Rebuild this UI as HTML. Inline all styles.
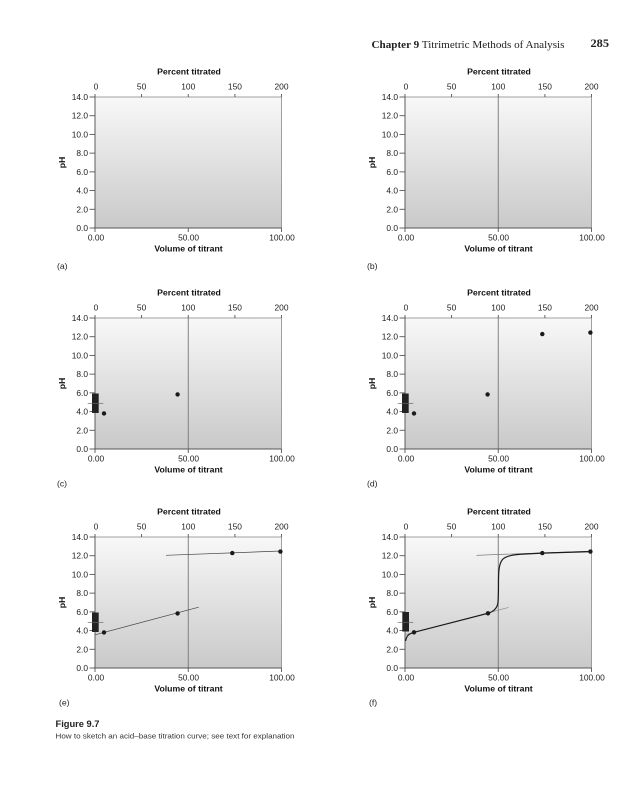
<!DOCTYPE html>
<html>
<head>
<meta charset="utf-8">
<style>
html,body{margin:0;padding:0;background:#fff;}
svg{display:block;}
.t{font-family:"Liberation Sans",sans-serif;font-size:8.4px;fill:#222;}
.b{font-family:"Liberation Sans",sans-serif;font-size:8.7px;font-weight:bold;fill:#111;}
.p{font-family:"Liberation Sans",sans-serif;font-size:8.6px;fill:#222;}
</style>
</head>
<body>
<svg width="640" height="800" viewBox="0 0 640 800" xmlns="http://www.w3.org/2000/svg">
<defs>
<linearGradient id="g" x1="0" y1="0" x2="0" y2="1">
<stop offset="0" stop-color="#f8f8f8"/>
<stop offset="1" stop-color="#c9c9c9"/>
</linearGradient>
</defs>
<rect width="640" height="800" fill="#fff"/>

<!-- Header -->
<text x="371.5" y="48" font-family="Liberation Serif, serif" font-size="10.6" fill="#222" textLength="193" lengthAdjust="spacingAndGlyphs"><tspan font-weight="bold">Chapter  9</tspan>  Titrimetric Methods of Analysis</text>
<text x="590.5" y="47" font-family="Liberation Serif, serif" font-size="11.5" font-weight="bold" fill="#222" textLength="18.5" lengthAdjust="spacingAndGlyphs">285</text>

<!-- ========== Panel a ========== -->
<g transform="translate(95,97)">
<rect x="0" y="0" width="186.5" height="131" fill="url(#g)" stroke="#8a8a8a" stroke-width="0.8"/>
<g stroke="#555" stroke-width="0.9" fill="none">
<line x1="0" y1="0" x2="0" y2="131"/><line x1="0" y1="131" x2="186.5" y2="131"/>
<line x1="-5.5" y1="0" x2="0" y2="0"/><line x1="-5.5" y1="18.71" x2="0" y2="18.71"/><line x1="-5.5" y1="37.43" x2="0" y2="37.43"/><line x1="-5.5" y1="56.14" x2="0" y2="56.14"/><line x1="-5.5" y1="74.86" x2="0" y2="74.86"/><line x1="-5.5" y1="93.57" x2="0" y2="93.57"/><line x1="-5.5" y1="112.29" x2="0" y2="112.29"/><line x1="-5.5" y1="131" x2="0" y2="131"/>
<line x1="0" y1="-3" x2="0" y2="0"/><line x1="46.6" y1="-3" x2="46.6" y2="0"/><line x1="93.25" y1="-3" x2="93.25" y2="0"/><line x1="139.9" y1="-3" x2="139.9" y2="0"/><line x1="186.5" y1="-3" x2="186.5" y2="0"/>
<line x1="0" y1="131" x2="0" y2="135"/><line x1="93.25" y1="131" x2="93.25" y2="135"/><line x1="186.5" y1="131" x2="186.5" y2="135"/>
</g>
<g class="t" text-anchor="end">
<text x="-7" y="3">14.0</text><text x="-7" y="21.7">12.0</text><text x="-7" y="40.4">10.0</text><text x="-7" y="59.1">8.0</text><text x="-7" y="77.9">6.0</text><text x="-7" y="96.6">4.0</text><text x="-7" y="115.3">2.0</text><text x="-7" y="134">0.0</text>
</g>
<g class="t" text-anchor="middle">
<text x="1" y="-7.3">0</text><text x="46.6" y="-7.3">50</text><text x="93.25" y="-7.3">100</text><text x="139.9" y="-7.3">150</text><text x="186.5" y="-7.3">200</text>
<text x="1" y="143.5">0.00</text><text x="93.6" y="143.5">50.00</text><text x="187" y="143.5">100.00</text>
</g>
<text class="b" x="94" y="-22.6" text-anchor="middle">Percent titrated</text>
<text class="b" x="93.5" y="154.5" text-anchor="middle">Volume of titrant</text>
<text class="b" transform="translate(-30,65.5) rotate(-90)" text-anchor="middle">pH</text>
<text class="p" x="-38" y="172">(a)</text>
</g>

<!-- ========== Panel b ========== -->
<g transform="translate(405,97)">
<rect x="0" y="0" width="186.5" height="131" fill="url(#g)" stroke="#8a8a8a" stroke-width="0.8"/>
<line x1="93.25" y1="0" x2="93.25" y2="131" stroke="#777" stroke-width="0.9"/>
<g stroke="#555" stroke-width="0.9" fill="none">
<line x1="0" y1="0" x2="0" y2="131"/><line x1="0" y1="131" x2="186.5" y2="131"/>
<line x1="-5.5" y1="0" x2="0" y2="0"/><line x1="-5.5" y1="18.71" x2="0" y2="18.71"/><line x1="-5.5" y1="37.43" x2="0" y2="37.43"/><line x1="-5.5" y1="56.14" x2="0" y2="56.14"/><line x1="-5.5" y1="74.86" x2="0" y2="74.86"/><line x1="-5.5" y1="93.57" x2="0" y2="93.57"/><line x1="-5.5" y1="112.29" x2="0" y2="112.29"/><line x1="-5.5" y1="131" x2="0" y2="131"/>
<line x1="0" y1="-3" x2="0" y2="0"/><line x1="46.6" y1="-3" x2="46.6" y2="0"/><line x1="93.25" y1="-3" x2="93.25" y2="0"/><line x1="139.9" y1="-3" x2="139.9" y2="0"/><line x1="186.5" y1="-3" x2="186.5" y2="0"/>
<line x1="0" y1="131" x2="0" y2="135"/><line x1="93.25" y1="131" x2="93.25" y2="135"/><line x1="186.5" y1="131" x2="186.5" y2="135"/>
</g>
<g class="t" text-anchor="end">
<text x="-7" y="3">14.0</text><text x="-7" y="21.7">12.0</text><text x="-7" y="40.4">10.0</text><text x="-7" y="59.1">8.0</text><text x="-7" y="77.9">6.0</text><text x="-7" y="96.6">4.0</text><text x="-7" y="115.3">2.0</text><text x="-7" y="134">0.0</text>
</g>
<g class="t" text-anchor="middle">
<text x="1" y="-7.3">0</text><text x="46.6" y="-7.3">50</text><text x="93.25" y="-7.3">100</text><text x="139.9" y="-7.3">150</text><text x="186.5" y="-7.3">200</text>
<text x="1" y="143.5">0.00</text><text x="93.6" y="143.5">50.00</text><text x="187" y="143.5">100.00</text>
</g>
<text class="b" x="94" y="-22.6" text-anchor="middle">Percent titrated</text>
<text class="b" x="93.5" y="154.5" text-anchor="middle">Volume of titrant</text>
<text class="b" transform="translate(-30,65.5) rotate(-90)" text-anchor="middle">pH</text>
<text class="p" x="-38" y="172">(b)</text>
</g>

<!-- ========== Panel c ========== -->
<g transform="translate(95,318)">
<rect x="0" y="0" width="186.5" height="131" fill="url(#g)" stroke="#8a8a8a" stroke-width="0.8"/>
<line x1="93.25" y1="0" x2="93.25" y2="131" stroke="#777" stroke-width="0.9"/>
<g stroke="#555" stroke-width="0.9" fill="none">
<line x1="0" y1="0" x2="0" y2="131"/><line x1="0" y1="131" x2="186.5" y2="131"/>
<line x1="-5.5" y1="0" x2="0" y2="0"/><line x1="-5.5" y1="18.71" x2="0" y2="18.71"/><line x1="-5.5" y1="37.43" x2="0" y2="37.43"/><line x1="-5.5" y1="56.14" x2="0" y2="56.14"/><line x1="-5.5" y1="74.86" x2="0" y2="74.86"/><line x1="-5.5" y1="93.57" x2="0" y2="93.57"/><line x1="-5.5" y1="112.29" x2="0" y2="112.29"/><line x1="-5.5" y1="131" x2="0" y2="131"/>
<line x1="0" y1="-3" x2="0" y2="0"/><line x1="46.6" y1="-3" x2="46.6" y2="0"/><line x1="93.25" y1="-3" x2="93.25" y2="0"/><line x1="139.9" y1="-3" x2="139.9" y2="0"/><line x1="186.5" y1="-3" x2="186.5" y2="0"/>
<line x1="0" y1="131" x2="0" y2="135"/><line x1="93.25" y1="131" x2="93.25" y2="135"/><line x1="186.5" y1="131" x2="186.5" y2="135"/>
</g>
<rect x="-3" y="75.5" width="6.7" height="19.5" fill="#222"/>
<line x1="-7.3" y1="85.3" x2="8.3" y2="85.3" stroke="#666" stroke-width="0.7"/>
<circle cx="9" cy="95.4" r="2.2" fill="#1a1a1a"/>
<circle cx="82.6" cy="76.4" r="2.2" fill="#1a1a1a"/>
<g class="t" text-anchor="end">
<text x="-7" y="3">14.0</text><text x="-7" y="21.7">12.0</text><text x="-7" y="40.4">10.0</text><text x="-7" y="59.1">8.0</text><text x="-7" y="77.9">6.0</text><text x="-7" y="96.6">4.0</text><text x="-7" y="115.3">2.0</text><text x="-7" y="134">0.0</text>
</g>
<g class="t" text-anchor="middle">
<text x="1" y="-7.3">0</text><text x="46.6" y="-7.3">50</text><text x="93.25" y="-7.3">100</text><text x="139.9" y="-7.3">150</text><text x="186.5" y="-7.3">200</text>
<text x="1" y="143.5">0.00</text><text x="93.6" y="143.5">50.00</text><text x="187" y="143.5">100.00</text>
</g>
<text class="b" x="94" y="-22.6" text-anchor="middle">Percent titrated</text>
<text class="b" x="93.5" y="154.5" text-anchor="middle">Volume of titrant</text>
<text class="b" transform="translate(-30,65.5) rotate(-90)" text-anchor="middle">pH</text>
<text class="p" x="-38" y="168.5">(c)</text>
</g>

<!-- ========== Panel d ========== -->
<g transform="translate(405,318)">
<rect x="0" y="0" width="186.5" height="131" fill="url(#g)" stroke="#8a8a8a" stroke-width="0.8"/>
<line x1="93.25" y1="0" x2="93.25" y2="131" stroke="#777" stroke-width="0.9"/>
<g stroke="#555" stroke-width="0.9" fill="none">
<line x1="0" y1="0" x2="0" y2="131"/><line x1="0" y1="131" x2="186.5" y2="131"/>
<line x1="-5.5" y1="0" x2="0" y2="0"/><line x1="-5.5" y1="18.71" x2="0" y2="18.71"/><line x1="-5.5" y1="37.43" x2="0" y2="37.43"/><line x1="-5.5" y1="56.14" x2="0" y2="56.14"/><line x1="-5.5" y1="74.86" x2="0" y2="74.86"/><line x1="-5.5" y1="93.57" x2="0" y2="93.57"/><line x1="-5.5" y1="112.29" x2="0" y2="112.29"/><line x1="-5.5" y1="131" x2="0" y2="131"/>
<line x1="0" y1="-3" x2="0" y2="0"/><line x1="46.6" y1="-3" x2="46.6" y2="0"/><line x1="93.25" y1="-3" x2="93.25" y2="0"/><line x1="139.9" y1="-3" x2="139.9" y2="0"/><line x1="186.5" y1="-3" x2="186.5" y2="0"/>
<line x1="0" y1="131" x2="0" y2="135"/><line x1="93.25" y1="131" x2="93.25" y2="135"/><line x1="186.5" y1="131" x2="186.5" y2="135"/>
</g>
<rect x="-3" y="75.5" width="6.7" height="19.5" fill="#222"/>
<line x1="-7.3" y1="85.3" x2="8.3" y2="85.3" stroke="#666" stroke-width="0.7"/>
<circle cx="9" cy="95.4" r="2.2" fill="#1a1a1a"/>
<circle cx="82.6" cy="76.4" r="2.2" fill="#1a1a1a"/>
<circle cx="137.3" cy="16.1" r="2.2" fill="#1a1a1a"/>
<circle cx="185.4" cy="14.6" r="2.2" fill="#1a1a1a"/>
<g class="t" text-anchor="end">
<text x="-7" y="3">14.0</text><text x="-7" y="21.7">12.0</text><text x="-7" y="40.4">10.0</text><text x="-7" y="59.1">8.0</text><text x="-7" y="77.9">6.0</text><text x="-7" y="96.6">4.0</text><text x="-7" y="115.3">2.0</text><text x="-7" y="134">0.0</text>
</g>
<g class="t" text-anchor="middle">
<text x="1" y="-7.3">0</text><text x="46.6" y="-7.3">50</text><text x="93.25" y="-7.3">100</text><text x="139.9" y="-7.3">150</text><text x="186.5" y="-7.3">200</text>
<text x="1" y="143.5">0.00</text><text x="93.6" y="143.5">50.00</text><text x="187" y="143.5">100.00</text>
</g>
<text class="b" x="94" y="-22.6" text-anchor="middle">Percent titrated</text>
<text class="b" x="93.5" y="154.5" text-anchor="middle">Volume of titrant</text>
<text class="b" transform="translate(-30,65.5) rotate(-90)" text-anchor="middle">pH</text>
<text class="p" x="-38" y="168.5">(d)</text>
</g>

<!-- ========== Panel e ========== -->
<g transform="translate(95,537)">
<rect x="0" y="0" width="186.5" height="131" fill="url(#g)" stroke="#8a8a8a" stroke-width="0.8"/>
<line x1="93.25" y1="0" x2="93.25" y2="131" stroke="#777" stroke-width="0.9"/>
<g stroke="#555" stroke-width="0.9" fill="none">
<line x1="0" y1="0" x2="0" y2="131"/><line x1="0" y1="131" x2="186.5" y2="131"/>
<line x1="-5.5" y1="0" x2="0" y2="0"/><line x1="-5.5" y1="18.71" x2="0" y2="18.71"/><line x1="-5.5" y1="37.43" x2="0" y2="37.43"/><line x1="-5.5" y1="56.14" x2="0" y2="56.14"/><line x1="-5.5" y1="74.86" x2="0" y2="74.86"/><line x1="-5.5" y1="93.57" x2="0" y2="93.57"/><line x1="-5.5" y1="112.29" x2="0" y2="112.29"/><line x1="-5.5" y1="131" x2="0" y2="131"/>
<line x1="0" y1="-3" x2="0" y2="0"/><line x1="46.6" y1="-3" x2="46.6" y2="0"/><line x1="93.25" y1="-3" x2="93.25" y2="0"/><line x1="139.9" y1="-3" x2="139.9" y2="0"/><line x1="186.5" y1="-3" x2="186.5" y2="0"/>
<line x1="0" y1="131" x2="0" y2="135"/><line x1="93.25" y1="131" x2="93.25" y2="135"/><line x1="186.5" y1="131" x2="186.5" y2="135"/>
</g>
<line x1="0" y1="97.8" x2="103.7" y2="70.2" stroke="#444" stroke-width="0.7"/>
<line x1="71" y1="18.3" x2="186.7" y2="14" stroke="#444" stroke-width="0.7"/>
<rect x="-3" y="75.5" width="6.7" height="19.5" fill="#222"/>
<line x1="-7.3" y1="85.3" x2="8.3" y2="85.3" stroke="#666" stroke-width="0.7"/>
<circle cx="9" cy="95.4" r="2.2" fill="#1a1a1a"/>
<circle cx="82.6" cy="76.4" r="2.2" fill="#1a1a1a"/>
<circle cx="137.3" cy="16.1" r="2.2" fill="#1a1a1a"/>
<circle cx="185.4" cy="14.6" r="2.2" fill="#1a1a1a"/>
<g class="t" text-anchor="end">
<text x="-7" y="3">14.0</text><text x="-7" y="21.7">12.0</text><text x="-7" y="40.4">10.0</text><text x="-7" y="59.1">8.0</text><text x="-7" y="77.9">6.0</text><text x="-7" y="96.6">4.0</text><text x="-7" y="115.3">2.0</text><text x="-7" y="134">0.0</text>
</g>
<g class="t" text-anchor="middle">
<text x="1" y="-7.3">0</text><text x="46.6" y="-7.3">50</text><text x="93.25" y="-7.3">100</text><text x="139.9" y="-7.3">150</text><text x="186.5" y="-7.3">200</text>
<text x="1" y="143.5">0.00</text><text x="93.6" y="143.5">50.00</text><text x="187" y="143.5">100.00</text>
</g>
<text class="b" x="94" y="-22.6" text-anchor="middle">Percent titrated</text>
<text class="b" x="93.5" y="154.5" text-anchor="middle">Volume of titrant</text>
<text class="b" transform="translate(-30,65.5) rotate(-90)" text-anchor="middle">pH</text>
<text class="p" x="-36" y="168.5">(e)</text>
</g>

<!-- ========== Panel f ========== -->
<g transform="translate(405,537)">
<rect x="0" y="0" width="186.5" height="131" fill="url(#g)" stroke="#8a8a8a" stroke-width="0.8"/>
<line x1="93.25" y1="0" x2="93.25" y2="131" stroke="#777" stroke-width="0.9"/>
<g stroke="#555" stroke-width="0.9" fill="none">
<line x1="0" y1="0" x2="0" y2="131"/><line x1="0" y1="131" x2="186.5" y2="131"/>
<line x1="-5.5" y1="0" x2="0" y2="0"/><line x1="-5.5" y1="18.71" x2="0" y2="18.71"/><line x1="-5.5" y1="37.43" x2="0" y2="37.43"/><line x1="-5.5" y1="56.14" x2="0" y2="56.14"/><line x1="-5.5" y1="74.86" x2="0" y2="74.86"/><line x1="-5.5" y1="93.57" x2="0" y2="93.57"/><line x1="-5.5" y1="112.29" x2="0" y2="112.29"/><line x1="-5.5" y1="131" x2="0" y2="131"/>
<line x1="0" y1="-3" x2="0" y2="0"/><line x1="46.6" y1="-3" x2="46.6" y2="0"/><line x1="93.25" y1="-3" x2="93.25" y2="0"/><line x1="139.9" y1="-3" x2="139.9" y2="0"/><line x1="186.5" y1="-3" x2="186.5" y2="0"/>
<line x1="0" y1="131" x2="0" y2="135"/><line x1="93.25" y1="131" x2="93.25" y2="135"/><line x1="186.5" y1="131" x2="186.5" y2="135"/>
</g>
<line x1="0" y1="97.8" x2="103.5" y2="70.4" stroke="#888" stroke-width="0.6"/>
<line x1="71.5" y1="18.3" x2="186.7" y2="14" stroke="#666" stroke-width="0.6"/>
<path d="M0.6,104 C1.5,99 3,97.2 9,95.3 L83,76.3 C88,74.8 91.5,72 92.7,67 C93.5,63 93.5,58 93.5,45 C93.5,35 93.8,27 97.5,22.5 C101.5,18.7 108,17.6 120,17 L137.3,16.1 L185.4,14.6" fill="none" stroke="#1a1a1a" stroke-width="1.2" stroke-linejoin="round"/>
<rect x="-2.7" y="75" width="6.7" height="19.5" fill="#222"/>
<line x1="-7.3" y1="85.3" x2="8.3" y2="85.3" stroke="#666" stroke-width="0.7"/>
<circle cx="9" cy="95.3" r="2.2" fill="#1a1a1a"/>
<circle cx="83" cy="76.3" r="2.2" fill="#1a1a1a"/>
<circle cx="137.3" cy="16.1" r="2.2" fill="#1a1a1a"/>
<circle cx="185.4" cy="14.6" r="2.2" fill="#1a1a1a"/>
<g class="t" text-anchor="end">
<text x="-7" y="3">14.0</text><text x="-7" y="21.7">12.0</text><text x="-7" y="40.4">10.0</text><text x="-7" y="59.1">8.0</text><text x="-7" y="77.9">6.0</text><text x="-7" y="96.6">4.0</text><text x="-7" y="115.3">2.0</text><text x="-7" y="134">0.0</text>
</g>
<g class="t" text-anchor="middle">
<text x="1" y="-7.3">0</text><text x="46.6" y="-7.3">50</text><text x="93.25" y="-7.3">100</text><text x="139.9" y="-7.3">150</text><text x="186.5" y="-7.3">200</text>
<text x="1" y="143.5">0.00</text><text x="93.6" y="143.5">50.00</text><text x="187" y="143.5">100.00</text>
</g>
<text class="b" x="94" y="-22.6" text-anchor="middle">Percent titrated</text>
<text class="b" x="93.5" y="154.5" text-anchor="middle">Volume of titrant</text>
<text class="b" transform="translate(-30,65.5) rotate(-90)" text-anchor="middle">pH</text>
<text class="p" x="-36" y="168.5">(f)</text>
</g>

<!-- Caption -->
<text x="55.5" y="726.8" font-family="Liberation Sans, sans-serif" font-size="9.6" font-weight="bold" fill="#222" textLength="44" lengthAdjust="spacingAndGlyphs">Figure 9.7</text>
<text x="55.5" y="738.6" font-family="Liberation Sans, sans-serif" font-size="7.4" fill="#333" textLength="239" lengthAdjust="spacingAndGlyphs">How to sketch an acid–base titration curve; see text for explanation</text>
</svg>
</body>
</html>
